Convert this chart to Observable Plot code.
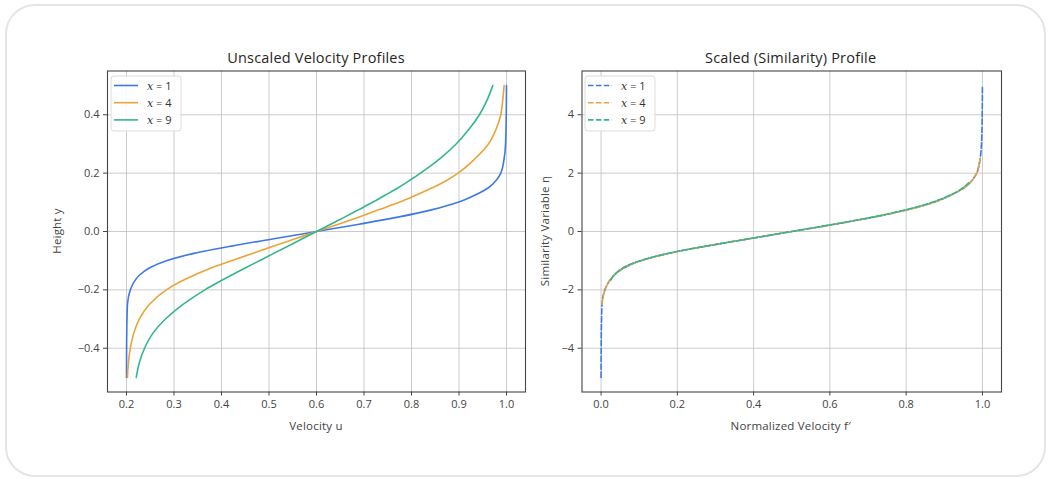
<!DOCTYPE html>
<html>
<head>
<meta charset="utf-8">
<script src="https://cdn.jsdelivr.net/npm/d3@7"></script>
<script src="https://cdn.jsdelivr.net/npm/@observablehq/plot@0.6"></script>
<style>
  html, body { margin: 0; padding: 0; background: #ffffff; }
  #root { position: relative; width: 1049px; height: 479px; background: #ffffff; font-family: "Open Sans", Lato, sans-serif; color: #333; overflow: hidden; }
  .border { position: absolute; left: 5px; top: 4px; width: 1041px; height: 473px; box-sizing: border-box; border: 2px solid #e4e4ea; border-radius: 30px; }
  .panel { position: absolute; top: 40px; }
  .lbl { position: absolute; white-space: nowrap; transform: translate(-50%, -50%); }
  .title { font-size: 14.5px; letter-spacing: 0.2px; color: #262626; }
  .axlbl { font-size: 11.5px; letter-spacing: 0.2px; color: #444; }
  .rot { transform: translate(-50%, -50%) rotate(-90deg); }
  svg { overflow: visible; }
</style>
</head>
<body>
<div id="root">
  <div class="border"></div>
  <div id="left" class="panel" style="left:0px"></div>
  <div id="right" class="panel" style="left:530px"></div>
  <div class="lbl title" style="left:316px; top:57px">Unscaled Velocity Profiles</div>
  <div class="lbl title" style="left:790.7px; top:57px">Scaled (Similarity) Profile</div>
  <div class="lbl axlbl" style="left:316px; top:425px">Velocity u</div>
  <div class="lbl axlbl" style="left:790.7px; top:425px">Normalized Velocity f′</div>
  <div class="lbl axlbl rot" style="left:56px; top:231px">Height y</div>
  <div class="lbl axlbl rot" style="left:543.5px; top:231px">Similarity Variable η</div>
</div>
<script>
// ---- series / categories ----
const seriesNames = ["x = 1", "x = 4", "x = 9"];
const seriesColors = ["#3f78e6", "#eba43a", "#33b68c"];

// ---- left panel: unscaled profiles (height y, velocity u) ----
const yX1 = [-0.5,-0.4,-0.3,-0.25,-0.2,-0.175,-0.15,-0.125,-0.1,-0.075,-0.05,-0.025,0,0.025,0.05,0.075,0.1,0.125,0.15,0.175,0.2,0.25,0.3,0.4,0.5];
const uX1 = [0.200,0.2002,0.201,0.202,0.208,0.215,0.227,0.248,0.284,0.342,0.421,0.510,0.600,0.690,0.774,0.844,0.898,0.934,0.962,0.978,0.988,0.995,0.998,0.9995,1.000];

const yX4 = [-0.5,-0.45,-0.4,-0.35,-0.3,-0.25,-0.2,-0.175,-0.15,-0.125,-0.1,-0.075,-0.05,-0.025,0,0.025,0.05,0.075,0.1,0.125,0.15,0.175,0.2,0.25,0.3,0.35,0.4,0.45,0.5];
const uX4 = [0.202,0.204,0.208,0.215,0.227,0.248,0.284,0.310,0.342,0.378,0.421,0.465,0.510,0.555,0.600,0.646,0.690,0.732,0.774,0.810,0.844,0.874,0.898,0.934,0.962,0.978,0.988,0.992,0.995];

const yX9 = [-0.5,-0.45,-0.4,-0.35,-0.3,-0.25,-0.2,-0.175,-0.15,-0.125,-0.1,-0.075,-0.05,-0.025,0,0.025,0.05,0.075,0.1,0.125,0.15,0.175,0.2,0.25,0.3,0.35,0.4,0.45,0.5];
const uX9 = [0.2205,0.227,0.238,0.255,0.282,0.319,0.365,0.392,0.4205,0.450,0.480,0.510,0.540,0.570,0.600,0.630,0.660,0.689,0.718,0.745,0.772,0.796,0.819,0.860,0.894,0.921,0.943,0.959,0.971];

// ---- right panel: similarity profile (eta, f') ----
const etaX1 = [-5,-4,-3,-2.5,-2,-1.75,-1.5,-1.25,-1,-0.75,-0.5,-0.25,0,0.25,0.5,0.75,1,1.25,1.5,1.75,2,2.5,3,4,5];
const fpX1 = [0,0.0003,0.0013,0.0025,0.01,0.019,0.034,0.06,0.105,0.1775,0.276,0.3875,0.5,0.6125,0.7175,0.805,0.8725,0.9175,0.9525,0.9725,0.985,0.994,0.9975,0.9994,1.0];

const etaX4 = [-2.5,-2.25,-2,-1.75,-1.5,-1.25,-1,-0.875,-0.75,-0.625,-0.5,-0.375,-0.25,-0.125,0,0.125,0.25,0.375,0.5,0.625,0.75,0.875,1,1.25,1.5,1.75,2,2.25,2.5];
const fpX4 = [0.0025,0.005,0.01,0.019,0.034,0.06,0.105,0.1375,0.1775,0.2225,0.276,0.331,0.3875,0.444,0.5,0.5575,0.6125,0.665,0.7175,0.7625,0.805,0.8425,0.8725,0.9175,0.9525,0.9725,0.985,0.99,0.994];

const etaX9 = [-1.667,-1.5,-1.333,-1.167,-1,-0.833,-0.667,-0.583,-0.5,-0.417,-0.333,-0.25,-0.167,-0.083,0,0.083,0.167,0.25,0.333,0.417,0.5,0.583,0.667,0.833,1,1.167,1.333,1.5,1.667];
const fpX9 = [0.0256,0.0338,0.0475,0.0688,0.1025,0.1488,0.2063,0.24,0.2756,0.3125,0.35,0.3875,0.425,0.4625,0.5,0.5375,0.575,0.6113,0.6475,0.6813,0.715,0.745,0.7738,0.825,0.8675,0.9013,0.9288,0.9488,0.9638];

// ---- tick labels ----
const leftXTicks = [0.2,0.3,0.4,0.5,0.6,0.7,0.8,0.9,1.0];
const leftYTicks = [-0.4,-0.2,0.0,0.2,0.4];
const rightXTicks = [0.0,0.2,0.4,0.6,0.8,1.0];
const rightYTicks = [-4,-2,0,2,4];

// build tables
const leftData = [];
[[yX1,uX1],[yX4,uX4],[yX9,uX9]].forEach(([ys,us],i) => ys.forEach((y,j) => leftData.push({series: seriesNames[i], y, u: us[j]})));
const rightData = [];
[[etaX1,fpX1],[etaX4,fpX4],[etaX9,fpX9]].forEach(([es,fs],i) => es.forEach((e,j) => rightData.push({series: seriesNames[i], eta: e, fp: fs[j]})));

const minus = s => s.replace("-", "\u2212");
const commonStyle = {fontFamily: "'Open Sans', Lato, sans-serif", fontSize: "11px", color: "#444", background: "transparent", overflow: "visible"};
const gridStyle = {stroke: "#c6c6c6", strokeOpacity: 1, strokeWidth: 0.9};

const left = Plot.plot({
  width: 530, height: 400,
  marginLeft: 107, marginRight: 5, marginTop: 30.5, marginBottom: 48.5,
  x: {domain: [0.16, 1.04], label: null},
  y: {domain: [-0.55, 0.55], label: null},
  color: {domain: seriesNames, range: seriesColors},
  style: commonStyle,
  marks: [
    Plot.gridX(leftXTicks, gridStyle),
    Plot.gridY(leftYTicks, gridStyle),
    Plot.line(leftData, {x: "u", y: "y", z: "series", stroke: "series", strokeWidth: 1.6, curve: "monotone-y"}),
    Plot.frame({stroke: "#454545", strokeWidth: 1.1}),
    Plot.axisX(leftXTicks, {tickSize: 4, tickPadding: 4, tickFormat: d => d.toFixed(1), label: null, stroke: "#454545"}),
    Plot.axisY(leftYTicks, {tickSize: 4, tickPadding: 4, tickFormat: d => minus(d.toFixed(1)), label: null, stroke: "#454545"})
  ]
});
document.getElementById("left").appendChild(left);

const right = Plot.plot({
  width: 519, height: 400,
  marginLeft: 51.5, marginRight: 48, marginTop: 30.5, marginBottom: 48.5,
  x: {domain: [-0.05, 1.05], label: null},
  y: {domain: [-5.5, 5.5], label: null},
  color: {domain: seriesNames, range: seriesColors},
  style: commonStyle,
  marks: [
    Plot.gridX(rightXTicks, gridStyle),
    Plot.gridY(rightYTicks, gridStyle),
    Plot.line(rightData, {x: "fp", y: "eta", z: "series", stroke: "series", strokeWidth: 1.6, strokeDasharray: "5.5,2.4", curve: "monotone-y"}),
    Plot.frame({stroke: "#454545", strokeWidth: 1.1}),
    Plot.axisX(rightXTicks, {tickSize: 4, tickPadding: 4, tickFormat: d => d.toFixed(1), label: null, stroke: "#454545"}),
    Plot.axisY(rightYTicks, {tickSize: 4, tickPadding: 4, tickFormat: d => minus(String(d)), label: null, stroke: "#454545"})
  ]
});
document.getElementById("right").appendChild(right);

// ---- legends (overlay) ----
const overlay = d3.select("#root").append("svg")
  .attr("width", 1049).attr("height", 479)
  .style("position", "absolute").style("left", "0px").style("top", "0px")
  .style("pointer-events", "none");

function drawLegend(x0, y0, dashed) {
  const g = overlay.append("g");
  g.append("rect").attr("x", x0).attr("y", y0).attr("width", 70).attr("height", 55)
    .attr("rx", 3).attr("fill", "#ffffff").attr("fill-opacity", 0.85)
    .attr("stroke", "#dcdcdc").attr("stroke-width", 1);
  seriesNames.forEach((name, i) => {
    const cy = y0 + 9.5 + i * 17.2;
    g.append("line").attr("x1", x0 + 3).attr("x2", x0 + 27).attr("y1", cy).attr("y2", cy)
      .attr("stroke", seriesColors[i]).attr("stroke-width", 1.6)
      .attr("stroke-dasharray", dashed ? "5.5,2.4" : null);
    const t = g.append("text").attr("x", x0 + 36).attr("y", cy + 4)
      .attr("font-size", 11).attr("fill", "#333")
      .attr("font-family", "'Open Sans', Lato, sans-serif");
    t.append("tspan").attr("font-style", "italic").attr("font-family", "'DejaVu Serif', serif").text("x");
    t.append("tspan").text(name.slice(1));
  });
}
drawLegend(111, 76, false);
drawLegend(585, 76, true);
</script>
</body>
</html>
